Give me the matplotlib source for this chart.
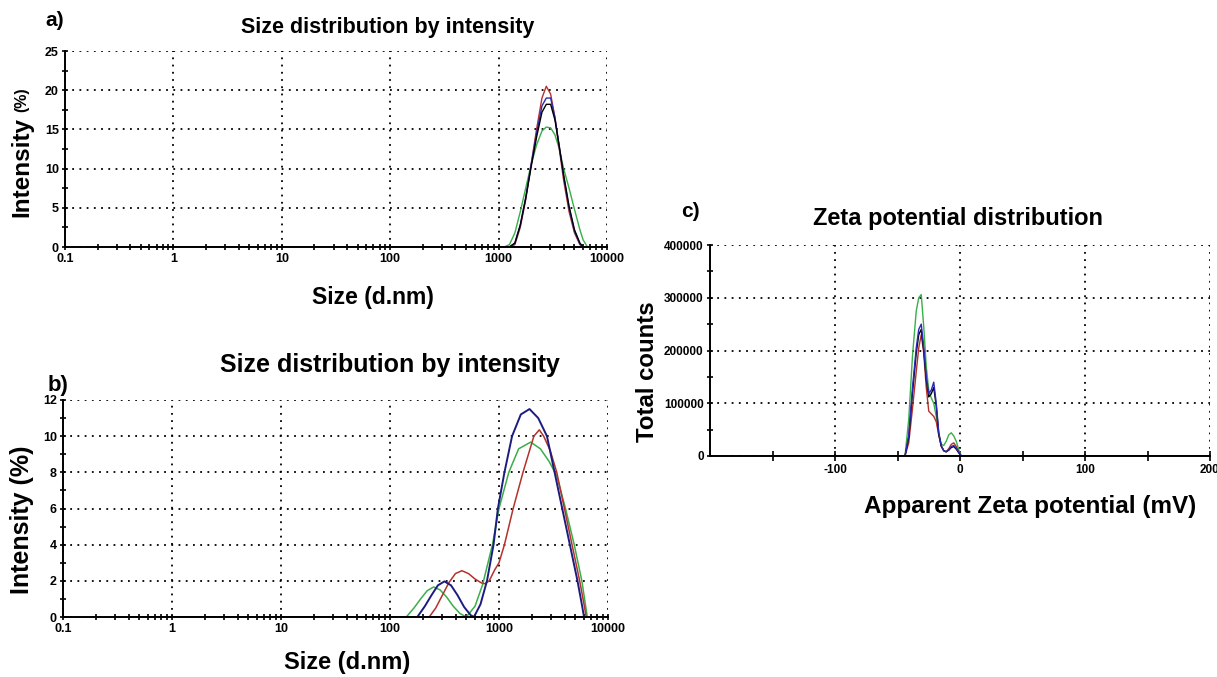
import numpy as np
import matplotlib.pyplot as plt
from matplotlib.ticker import LogLocator, NullFormatter, FixedLocator

plt.rcParams['font.family'] = ['Liberation Sans', 'DejaVu Sans']
plt.rcParams['font.weight'] = 'bold'

# ---- panel a: size distribution (sample 1) ----
a_size = [0.4, 1000, 1122, 1259, 1413, 1585, 1778, 1995, 2239, 2512, 2754,
          3020, 3311, 3631, 3981, 4467, 5012, 5623, 6026, 6607, 10000]
a_green = [0, 0, 0, 0.3, 1.8, 4.5, 7.5, 10.5, 13.0, 14.8, 15.3,
           15.2, 14.3, 12.5, 10.0, 7.5, 4.8, 2.2, 0.9, 0, 0]
a_red = [0, 0, 0, 0, 0.3, 2.5, 6.0, 10.5, 15.0, 19.0, 20.5,
         19.5, 16.5, 12.5, 8.5, 4.5, 1.8, 0.3, 0, 0, 0]
a_blue = [0, 0, 0, 0, 0.5, 2.8, 6.3, 10.5, 14.5, 18.0, 19.0,
          19.0, 16.5, 12.8, 9.0, 5.0, 2.0, 0.4, 0, 0, 0]
a_black = [0, 0, 0, 0, 0.5, 2.8, 6.2, 10.2, 14.0, 17.2, 18.2,
           18.2, 16.2, 12.8, 9.2, 5.2, 2.2, 0.5, 0, 0, 0]

# ---- panel b: size distribution (sample 2) ----
b_green_x = [0.4, 141, 166, 191, 219, 251, 288, 331, 380, 437, 501, 603, 708, 871,
             1000, 1230, 1514, 1950, 2399, 2884, 3388, 4074, 4898, 5754, 6166, 6457, 10000]
b_green = [0, 0, 0.5, 1.0, 1.45, 1.66, 1.5, 1.1, 0.6, 0.2, 0, 0.6, 1.8, 4.0,
           6.0, 8.0, 9.3, 9.67, 9.3, 8.6, 7.8, 6.0, 4.0, 2.0, 0.8, 0, 0]
b_red_x = [0.4, 229, 263, 302, 347, 398, 457, 525, 603, 692, 741, 813, 912, 1000,
           1122, 1349, 1660, 2089, 2344, 2570, 2951, 3388, 3981, 4677, 5495, 6026, 6310, 10000]
b_red = [0, 0, 0.5, 1.2, 1.9, 2.4, 2.56, 2.4, 2.1, 1.88, 1.84, 2.0, 2.6, 3.0,
         4.0, 6.0, 8.0, 10.0, 10.35, 10.0, 9.2, 8.0, 6.0, 4.0, 2.0, 0.7, 0, 0]
b_blue_x = [0.4, 178, 209, 240, 275, 316, 363, 417, 479, 550, 589, 676, 776, 891, 977,
            1122, 1318, 1585, 1905, 2291, 2754, 3236, 3802, 4467, 5248, 5754, 6026, 10000]
b_blue = [0, 0, 0.6, 1.2, 1.75, 1.97, 1.75, 1.2, 0.55, 0.1, 0, 0.7, 2.0, 4.0, 6.0,
          8.0, 10.0, 11.2, 11.5, 11.0, 10.0, 8.0, 6.0, 4.0, 2.0, 0.7, 0, 0]

# ---- panel c: zeta potential (counts in thousands) ----
c_mv = [-150, -44, -41, -38, -35, -33, -31, -29, -27, -25, -23, -21,
        -19, -17, -15, -13, -11, -9, -7, -5, -3, -1, 1, 200]
c_green = [0, 0, 70, 190, 275, 300, 306, 245, 170, 125, 110, 100,
           75, 40, 22, 20, 28, 40, 44, 38, 28, 12, 0, 0]
c_red = [0, 0, 25, 90, 160, 205, 230, 195, 130, 85, 80, 75,
         65, 40, 18, 10, 8, 14, 22, 25, 18, 8, 0, 0]
c_black = [0, 0, 35, 120, 195, 230, 240, 200, 145, 112, 118, 130,
           95, 42, 19, 10, 8, 11, 16, 18, 13, 6, 0, 0]
c_blue = [0, 0, 40, 130, 205, 240, 250, 205, 150, 118, 125, 140,
          100, 45, 20, 10, 8, 12, 18, 20, 15, 7, 0, 0]

RED = '#b3322b'
BLUE = '#2a2ab8'
GREEN = '#3aae48'
NAVY = '#1c1c80'

W, H = 1217, 677
fig = plt.figure(figsize=(W / 100, H / 100), dpi=100)


def box(l, t, r, b):
    return [l / W, 1 - b / H, (r - l) / W, (b - t) / H]


def ftext(x, y, s, size, **kw):
    fig.text(x / W, 1 - y / H, s, fontsize=size, fontweight='bold',
             ha='center', va='center', **kw)


def style(ax, lsize=9):
    for side in ['top', 'right']:
        ax.spines[side].set_visible(False)
    for side in ['left', 'bottom']:
        ax.spines[side].set_linewidth(1.4)
    ax.grid(True, which='major', color='black', linestyle=(0, (1, 3)), linewidth=1.3)
    ax.tick_params(which='both', direction='inout', width=1.2, labelsize=lsize,
                   pad=2)
    ax.tick_params(which='major', length=5)
    ax.tick_params(which='minor', length=4)
    for lbl in ax.get_xticklabels() + ax.get_yticklabels():
        lbl.set_fontweight('bold')


def log_axis(ax):
    ax.set_xscale('log')
    ax.set_xlim(0.1, 10000)
    ax.set_xticks([0.1, 1, 10, 100, 1000, 10000])
    ax.set_xticklabels(['0.1', '1', '10', '100', '1000', '10000'])
    ax.xaxis.set_minor_locator(LogLocator(base=10, subs=np.arange(2, 10)))
    ax.xaxis.set_minor_formatter(NullFormatter())


# panel a
ax1 = fig.add_axes(box(65, 51, 607, 247))
log_axis(ax1)
ax1.set_ylim(0, 25)
ax1.set_yticks([0, 5, 10, 15, 20, 25])
ax1.yaxis.set_minor_locator(FixedLocator(np.arange(2.5, 25, 5)))
ax1.plot(a_size, a_green, color=GREEN, lw=1.0)
ax1.plot(a_size, a_red, color=RED, lw=1.0)
ax1.plot(a_size, a_blue, color=BLUE, lw=1.0)
ax1.plot(a_size, a_black, color='black', lw=1.0)
ax1.plot([0.4, 10000], [0, 0], color='black', lw=1.8)
style(ax1)

# panel b
ax2 = fig.add_axes(box(63, 400, 608, 617))
log_axis(ax2)
ax2.set_ylim(0, 12)
ax2.set_yticks([0, 2, 4, 6, 8, 10, 12])
ax2.yaxis.set_minor_locator(FixedLocator(np.arange(1, 12, 2)))
ax2.plot(b_green_x, b_green, color=GREEN, lw=1.1)
ax2.plot(b_red_x, b_red, color=RED, lw=1.1)
ax2.plot(b_blue_x, b_blue, color=NAVY, lw=1.4)
ax2.plot([0.4, 10000], [0, 0], color='black', lw=1.8)
style(ax2)

# panel c
ax3 = fig.add_axes(box(710, 245, 1210, 456))
ax3.set_xlim(-200, 200)
ax3.set_ylim(0, 400000)
ax3.set_xticks([-100, 0, 100, 200])
ax3.set_xticklabels(['-100', '0', '100', '200'])
ax3.xaxis.set_minor_locator(FixedLocator([-150, -50, 50, 150]))
ax3.set_yticks([0, 100000, 200000, 300000, 400000])
ax3.set_yticklabels(['0', '100000', '200000', '300000', '400000'])
ax3.yaxis.set_minor_locator(FixedLocator([50000, 150000, 250000, 350000]))
k = 1000
ax3.plot(c_mv, [v * k for v in c_green], color=GREEN, lw=1.0)
ax3.plot(c_mv, [v * k for v in c_red], color=RED, lw=1.0)
ax3.plot(c_mv, [v * k for v in c_black], color='black', lw=1.0)
ax3.plot(c_mv, [v * k for v in c_blue], color=BLUE, lw=1.0)
ax3.plot([-150, 200], [0, 0], color='black', lw=1.8)
style(ax3, lsize=8.5)
ax3.tick_params(axis='x', which='both', length=7)

# texts
ftext(55, 20, 'a)', 15)
ftext(388, 27, 'Size distribution by intensity', 15.5)
ftext(373, 297, 'Size (d.nm)', 16.5)
ftext(22, 167, 'Intensity', 17.5, rotation=90)
ftext(22, 100, '(%)', 11.5, rotation=90)

ftext(58, 385, 'b)', 16)
ftext(390, 365, 'Size distribution by intensity', 18)
ftext(347, 663, 'Size (d.nm)', 17)
ftext(22, 520, 'Intensity (%)', 18, rotation=90)

ftext(690, 212, 'c)', 15)
ftext(958, 218, 'Zeta potential distribution', 17)
ftext(1030, 507, 'Apparent Zeta potential (mV)', 17.5)
ftext(647, 372, 'Total counts', 17.3, rotation=90)

fig.savefig('out.png', dpi=100)
